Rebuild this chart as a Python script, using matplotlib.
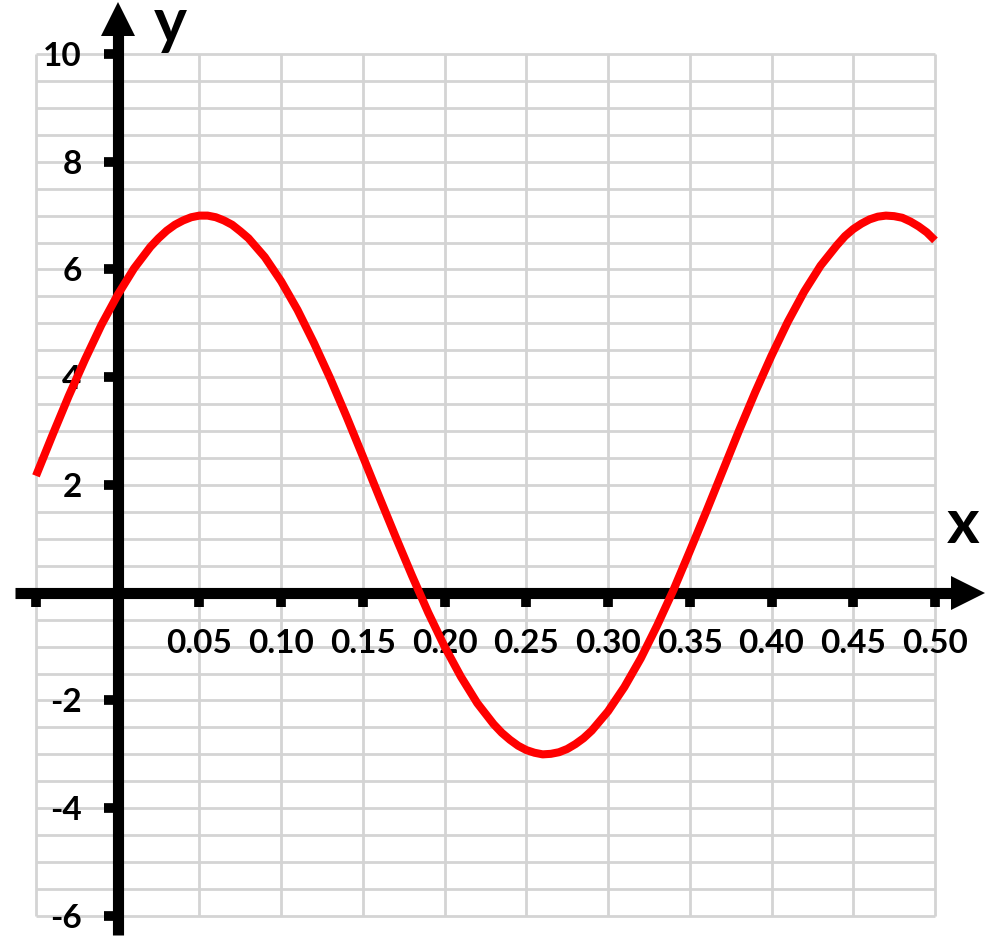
import matplotlib
matplotlib.use('Agg')
import matplotlib.pyplot as plt
import numpy as np

# ---- data ----
x_values = [-0.05, -0.04, -0.03, -0.02, -0.01, 0.00, 0.01, 0.02, 0.025, 0.03,
            0.035, 0.04, 0.045, 0.05, 0.055, 0.06, 0.065, 0.07, 0.075, 0.08,
            0.09, 0.10, 0.11, 0.12, 0.13, 0.14, 0.15, 0.16, 0.17, 0.18,
            0.19, 0.20, 0.21, 0.22, 0.23, 0.235, 0.24, 0.245, 0.25, 0.255,
            0.26, 0.265, 0.27, 0.275, 0.28, 0.285, 0.29, 0.30, 0.31, 0.32,
            0.33, 0.34, 0.35, 0.36, 0.37, 0.38, 0.39, 0.40, 0.41, 0.42,
            0.43, 0.44, 0.445, 0.45, 0.455, 0.46, 0.465, 0.47, 0.475, 0.48,
            0.485, 0.49, 0.495, 0.50]
y_values = [2.17, 2.92, 3.65, 4.33, 4.97, 5.53, 6.02, 6.42, 6.58, 6.72,
            6.83, 6.91, 6.97, 7.00, 7.00, 6.97, 6.91, 6.83, 6.71, 6.58,
            6.23, 5.78, 5.25, 4.64, 3.98, 3.27, 2.53, 1.78, 1.04, 0.32,
            -0.37, -1.00, -1.56, -2.05, -2.44, -2.60, -2.73, -2.84, -2.92, -2.97,
            -3.00, -2.99, -2.96, -2.90, -2.81, -2.70, -2.56, -2.20, -1.75, -1.22,
            -0.61, 0.05, 0.77, 1.50, 2.25, 3.00, 3.72, 4.40, 5.03, 5.59,
            6.07, 6.45, 6.62, 6.75, 6.85, 6.93, 6.98, 7.00, 6.99, 6.96,
            6.89, 6.80, 6.69, 6.54]

x_ticks = [-0.05, 0.05, 0.10, 0.15, 0.20, 0.25, 0.30, 0.35, 0.40, 0.45, 0.50]
x_tick_labels = ['', '0.05', '0.10', '0.15', '0.20', '0.25', '0.30', '0.35',
                 '0.40', '0.45', '0.50']
y_ticks = [-6, -4, -2, 2, 4, 6, 8, 10]
y_tick_labels = ['-6', '-4', '-2', '2', '4', '6', '8', '10']

x_grid = np.arange(-0.05, 0.5001, 0.05)
y_grid = np.arange(-6, 10.001, 0.5)

plt.rcParams['font.family'] = ['Lato', 'DejaVu Sans']
plt.rcParams['font.weight'] = 'bold'

fig = plt.figure(figsize=(10, 9.48), dpi=100)
ax = fig.add_axes([0, 0, 1, 1])
ax.set_xlim(-0.07202, 0.5398)
ax.set_ylim(-6.594, 11.002)

grid_color = '#d4d4d4'
ax.vlines(x_grid, -6, 10, color=grid_color, lw=2.0, zorder=1)
ax.hlines(y_grid, -0.05, 0.5, color=grid_color, lw=2.0, zorder=1)

for s in ['top', 'right']:
    ax.spines[s].set_visible(False)
ax.spines['left'].set_position(('data', 0))
ax.spines['bottom'].set_position(('data', 0))
ax.spines['left'].set_bounds(-6.35, 10.45)
ax.spines['bottom'].set_bounds(-0.0628, 0.515)
for s in ['left', 'bottom']:
    ax.spines[s].set_linewidth(8)
    ax.spines[s].set_color('black')
    ax.spines[s].set_capstyle('butt')
    ax.spines[s].set_zorder(2.5)

ax.set_xticks(x_ticks, x_tick_labels)
ax.set_yticks(y_ticks, y_tick_labels)
ax.tick_params(axis='both', direction='out', length=9.9, width=7,
               color='black', labelsize=24, labelcolor='black')
ax.tick_params(axis='y', pad=16)
ax.tick_params(axis='x', pad=16)
for lab in ax.get_xticklabels() + ax.get_yticklabels():
    lab.set_fontweight('bold')

# arrow heads
ax.plot([0], [10.65], marker='^', ms=23.8, mew=0, color='black',
        clip_on=False, zorder=3)
ax.plot([0.5205], [0], marker='>', ms=23.8, mew=0, color='black',
        clip_on=False, zorder=3)

# axis names
ax.text(0.0320, 10.22, 'y', fontsize=45, fontweight='bold', ha='center',
        va='baseline', color='black')
ax.text(0.517, 0.923, 'x', fontsize=45, fontweight='bold', ha='center',
        va='baseline', color='black')

# curve
ax.plot(x_values, y_values, color='#ff0000', lw=5.8, zorder=5,
        solid_joinstyle='round', solid_capstyle='butt')

fig.savefig('out.png', dpi=100)
